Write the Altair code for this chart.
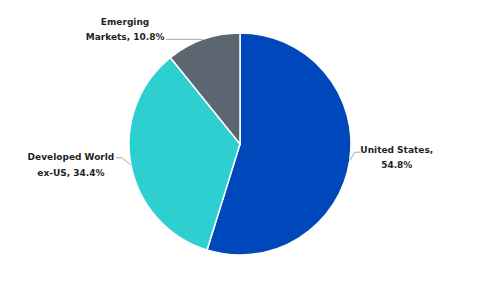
import math
import altair as alt
import pandas as pd

# ---- data ----
categories = ["United States", "Developed World ex-US", "Emerging Markets"]
shares = [54.8, 34.4, 10.8]
label_texts = ["United States,\n54.8%", "Developed World\nex-US, 34.4%", "Emerging\nMarkets, 10.8%"]
colors = ["#0047BB", "#2ECFD1", "#5B6670"]

# ---- layout (styling, not data) ----
W, H = 480, 288
CX, CY = W / 2, H / 2
R = 111
LINE_H = 15.5
# per-slice leader geometry relative to the slice's mid-angle edge point:
# (elbow dx, elbow dy, end dx, end dy, label-center dx, label-center dy)
leader = [
    (5, -8.5, 11, -8.5, 47, -3),
    (-9, -7, -15, -7, -60, 0),
    (-18, 0, -37, 0, -78, -10),
]

df = pd.DataFrame({"cat": categories, "share": shares, "order": range(len(shares))})

total = sum(shares)
seg_rows, lab_rows = [], []
cum = 0.0
for i, s in enumerate(shares):
    mid = (cum + s / 2) / total * 2 * math.pi
    cum += s
    ex = CX + R * math.sin(mid)
    ey = CY - R * math.cos(mid)
    edx, edy, ndx, ndy, ldx, ldy = leader[i]
    seg_rows.append({"x": ex, "y": ey, "x2": ex + edx, "y2": ey + edy})
    seg_rows.append({"x": ex + edx, "y": ey + edy, "x2": ex + ndx, "y2": ey + ndy})
    n_lines = label_texts[i].count("\n") + 1
    # first line is placed at y; shift so the block is centred on the anchor
    lab_rows.append({"x": ex + ldx, "y": ey + ldy - (n_lines - 1) * LINE_H / 2,
                     "text": label_texts[i]})

segs = pd.DataFrame(seg_rows)
labs = pd.DataFrame(lab_rows)

pie = alt.Chart(df).mark_arc(outerRadius=R, stroke="white", strokeWidth=1.5).encode(
    theta=alt.Theta("share:Q", stack=True),
    order=alt.Order("order:Q"),
    color=alt.Color("cat:N", scale=alt.Scale(domain=categories, range=colors), legend=None),
)

lines = alt.Chart(segs).mark_rule(color="#A6A6A6", strokeWidth=1).encode(
    x=alt.X("x:Q", scale=None, axis=None), y=alt.Y("y:Q", scale=None, axis=None),
    x2="x2:Q", y2="y2:Q",
)

text = alt.Chart(labs).mark_text(
    font="DejaVu Sans", fontWeight="bold", fontSize=9, color="#1F1F1F",
    lineBreak="\n", lineHeight=LINE_H, align="center", baseline="middle",
).encode(
    x=alt.X("x:Q", scale=None, axis=None), y=alt.Y("y:Q", scale=None, axis=None),
    text="text:N",
)

chart = alt.layer(pie, lines, text).properties(
    width=W, height=H, autosize=alt.AutoSizeParams(type="none"), padding=0,
    background="white",
).configure_view(stroke=None, strokeWidth=0)

chart.save("out.html", embed_options={"renderer": "svg", "actions": False})
